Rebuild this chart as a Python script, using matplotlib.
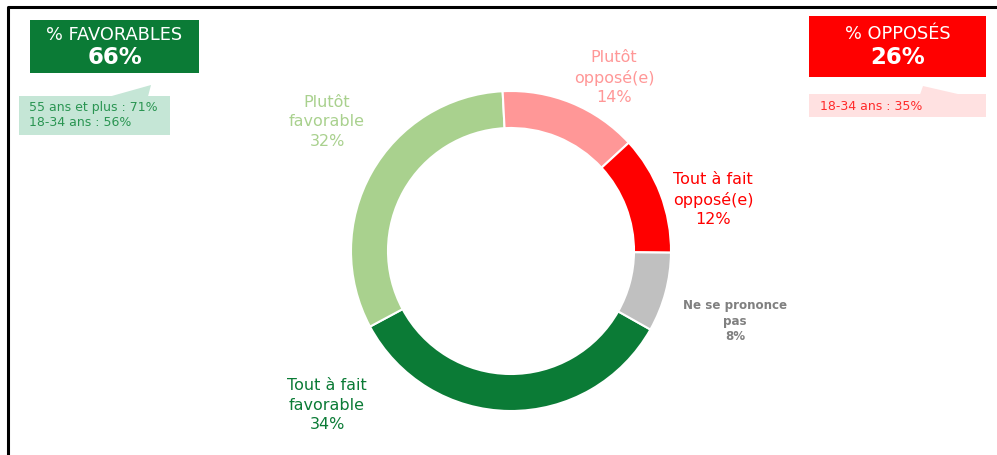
import matplotlib.pyplot as plt
from matplotlib.patches import Rectangle, Polygon

# Données
categories = [
    "Tout à fait\nfavorable",
    "Plutôt\nfavorable",
    "Plutôt\nopposé(e)",
    "Tout à fait\nopposé(e)",
    "Ne se prononce\npas",
]
values = [34, 32, 14, 12, 8]
colors = ["#0b7b36", "#a9d18e", "#ff9797", "#ff0000", "#c0c0c0"]
label_colors = ["#0b7b36", "#a9d18e", "#ff9797", "#ff0000", "#808080"]

fav_total = 66
opp_total = 26
fav_details = ["55 ans et plus : 71%", "18-34 ans : 56%"]
opp_details = ["18-34 ans : 35%"]

W, H = 997, 455
fig = plt.figure(figsize=(W / 100, H / 100), dpi=100)

# fond en coordonnées pixels
bg = fig.add_axes([0, 0, 1, 1])
bg.set_xlim(0, W)
bg.set_ylim(H, 0)
bg.axis("off")

# cadre (gauche + haut)
bg.plot([8, 8, W], [H, 7, 7], color="black", lw=2.2, solid_capstyle="butt")

# donut
cx, cy, r = 511, 251, 160
pad = 175
ax = fig.add_axes([(cx - pad) / W, (H - cy - pad) / H, 2 * pad / W, 2 * pad / H])
ax.pie(
    values,
    colors=colors,
    radius=r,
    startangle=-29.4,
    counterclock=False,
    wedgeprops=dict(width=37, edgecolor="white", linewidth=1.5),
)
ax.set_xlim(-pad, pad)
ax.set_ylim(-pad, pad)
ax.set_aspect("equal")
ax.axis("off")

# étiquettes des segments (pixels)
label_pos = [(327, 405), (327, 122), (614, 78), (713, 200), (735, 321)]
for i, (cat, val, col, (lx, ly)) in enumerate(zip(categories, values,
                                                  label_colors, label_pos)):
    txt = f"{cat}\n{val}%"
    if i == 4:
        bg.text(lx, ly, txt, color=col, ha="center", va="center",
                fontsize=8.6, fontweight="bold", linespacing=1.3)
    else:
        bg.text(lx, ly, txt, color=col, ha="center", va="center",
                fontsize=11.5, linespacing=1.36)

# encadré favorables
bg.add_patch(Rectangle((30, 20), 169, 53, color="#0b7b36", lw=0))
bg.text(114.5, 35, "% FAVORABLES", color="white", ha="center", va="center",
        fontsize=12.8)
bg.text(114.5, 58, f"{fav_total}%", color="white", ha="center", va="center",
        fontsize=16.5, fontweight="bold")
bg.add_patch(Rectangle((19, 96), 151, 39, color="#c5e6d6", lw=0))
bg.add_patch(Polygon([(110, 96.5), (151, 85), (148, 96.5)], closed=True,
                     color="#c5e6d6", lw=0))
for k, line in enumerate(fav_details):
    bg.text(29, 108 + k * 15, line, color="#2a9552", ha="left", va="center",
            fontsize=9)

# encadré opposés
bg.add_patch(Rectangle((809, 16), 177, 61, color="#ff0000", lw=0))
bg.text(897.5, 34, "% OPPOSÉS", color="white", ha="center", va="center",
        fontsize=12.8)
bg.text(897.5, 58, f"{opp_total}%", color="white", ha="center", va="center",
        fontsize=16.5, fontweight="bold")
bg.add_patch(Rectangle((809, 94), 177, 23, color="#ffe1e1", lw=0))
bg.add_patch(Polygon([(920, 94.5), (923, 86), (960, 94.5)], closed=True,
                     color="#ffe1e1", lw=0))
for k, line in enumerate(opp_details):
    bg.text(820, 106 + k * 15, line, color="#ff2a2a", ha="left", va="center",
            fontsize=9)

plt.savefig("out.png", dpi=100)
plt.close()
